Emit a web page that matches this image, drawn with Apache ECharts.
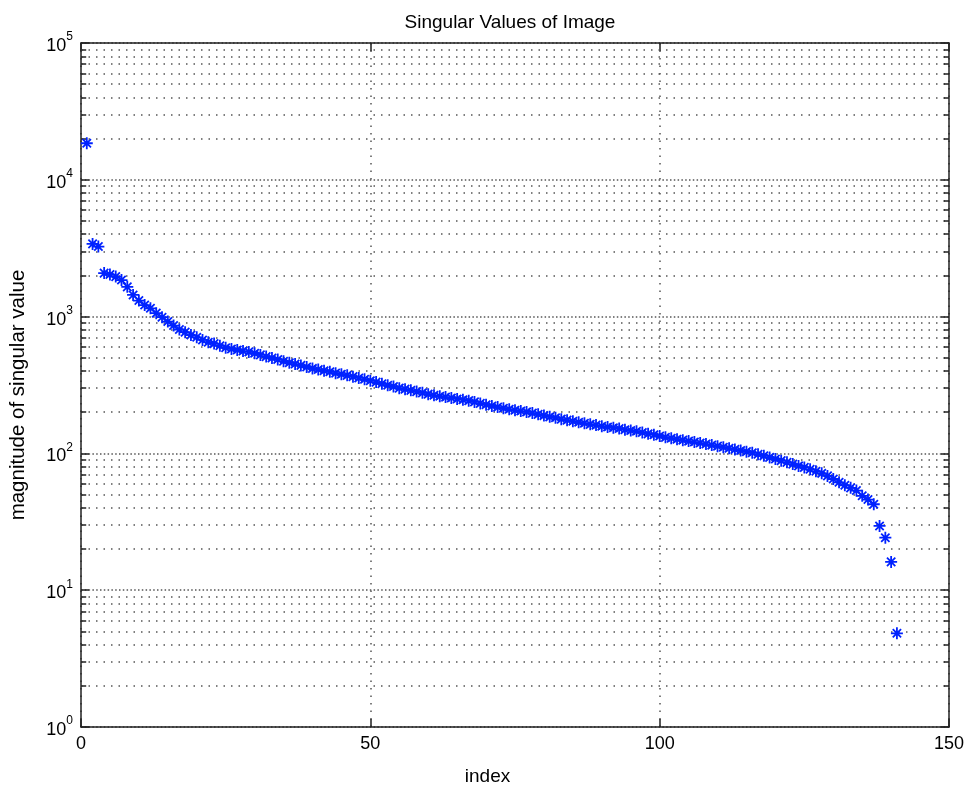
<!DOCTYPE html>
<html>
<head>
<meta charset="utf-8">
<script src="https://cdn.jsdelivr.net/npm/echarts@6/dist/echarts.min.js"></script>
<style>
html,body{margin:0;padding:0;background:#fff;}
#chart{width:968px;height:785px;}
</style>
</head>
<body>
<div id="chart"></div>
<script>
// ---- data ----
var indices = [];
for (var i = 1; i <= 141; i++) indices.push(i);
var singularValues = [
  18500, 3400, 3250, 2080, 2030, 1960, 1850, 1650, 1440, 1310,
  1215, 1150, 1060, 990, 920, 860, 805, 770, 733, 706,
  675, 650, 635, 612, 592, 580, 570, 560, 552, 540,
  525, 510, 498, 486, 472, 460, 450, 440, 428, 418,
  410, 402, 395, 386, 379, 372, 364, 356, 348, 340,
  332, 323, 315, 308, 300, 295, 289, 283, 277, 271,
  266, 262, 258, 254, 250, 247, 243, 238, 232, 227,
  222, 218, 214, 210, 207, 204, 201, 197, 193, 189,
  185, 182, 178, 175, 172, 169, 166, 163, 161, 158,
  156, 154, 152, 149, 147, 145, 142, 139, 137, 134,
  131, 129, 127, 125, 123, 121, 119, 117, 115, 113,
  111, 109, 107, 105, 103, 101, 98.5, 96, 93.5, 91,
  88.5, 86, 83.5, 81, 79, 76.5, 74, 71.5, 68.5, 65,
  61.5, 58.5, 56, 53.5, 49, 46, 42.5, 29.5, 24.2, 16.1,
  4.84
];
var xTicks = [0, 50, 100, 150];
var yDecadeExponents = [0, 1, 2, 3, 4, 5];
var minorMultipliers = [2, 3, 4, 5, 6, 7, 8, 9];
var titleText = 'Singular Values of Image';
var xName = 'index';
var yName = 'magnitude of singular value';

// ---- build ----
var points = indices.map(function (x, k) { return [x, singularValues[k]]; });

var minorGrid = [], minorTicks = [];
yDecadeExponents.slice(0, -1).forEach(function (e) {
  minorMultipliers.forEach(function (m) {
    var v = m * Math.pow(10, e);
    minorGrid.push({ yAxis: v });
    minorTicks.push([{ coord: [xTicks[0], v] }, { coord: [xTicks[0] + 0.9, v] }]);
    minorTicks.push([{ coord: [xTicks[xTicks.length - 1] - 0.9, v] }, { coord: [xTicks[xTicks.length - 1], v] }]);
  });
});

var asterisk = 'path://M0,8.5L20,8.5L20,11.5L0,11.5Z' +
  'M8.5,0L11.5,0L11.5,20L8.5,20Z' +
  'M2,4.1L4.1,2L18,15.9L15.9,18Z' +
  'M15.9,2L18,4.1L4.1,18L2,15.9Z';

var FONT = 'Liberation Sans, Arial, Helvetica, sans-serif';
var axisCol = '#222';
var xMin = xTicks[0], xMax = xTicks[xTicks.length - 1];
var yMin = Math.pow(10, yDecadeExponents[0]);
var yMax = Math.pow(10, yDecadeExponents[yDecadeExponents.length - 1]);

var chart = echarts.init(document.getElementById('chart'), null, { renderer: 'canvas' });
chart.setOption({
  backgroundColor: '#fff',
  animation: false,
  title: {
    text: titleText,
    left: 505, top: 8, textAlign: 'center',
    textStyle: { fontFamily: FONT, fontSize: 19, fontWeight: 'normal', color: '#000' }
  },
  grid: { left: 81, right: 19, top: 43, bottom: 58, containLabel: false, outerBoundsMode: 'none' },
  xAxis: [{
    type: 'value', min: xMin, max: xMax, interval: 50,
    name: xName, nameLocation: 'middle', nameGap: 40,
    nameTextStyle: { fontFamily: FONT, fontSize: 19, color: '#000', padding: [0, 55, 0, 0] },
    axisLine: { show: true, onZero: false, lineStyle: { color: axisCol, width: 1.5 } },
    axisTick: { show: true, inside: true, length: 8, lineStyle: { color: axisCol, width: 1.5 } },
    axisLabel: { fontFamily: FONT, fontSize: 18, color: '#000', margin: 8 },
    splitLine: { show: true, lineStyle: { color: '#555', width: 1.5, type: [1.5, 6] } }
  }, {
    type: 'value', min: xMin, max: xMax, interval: 50, position: 'top',
    axisLine: { show: true, onZero: false, lineStyle: { color: axisCol, width: 1.5 } },
    axisTick: { show: true, inside: true, length: 8, lineStyle: { color: axisCol, width: 1.5 } },
    axisLabel: { show: false },
    splitLine: { show: false }
  }],
  yAxis: [{
    type: 'log', logBase: 10, min: yMin, max: yMax,
    name: yName, nameLocation: 'middle', nameGap: 52, nameRotate: 90,
    nameTextStyle: { fontFamily: FONT, fontSize: 20.5, color: '#000', padding: [0, 20, 0, 0] },
    axisLine: { show: true, onZero: false, lineStyle: { color: axisCol, width: 1.5 } },
    axisTick: { show: true, inside: true, length: 8, lineStyle: { color: axisCol, width: 1.5 } },
    axisLabel: {
      margin: 8,
      formatter: function (v) {
        var e = Math.round(Math.log(v) / Math.LN10);
        return '{b|10}{e|' + e + '}';
      },
      rich: {
        b: { fontFamily: FONT, fontSize: 18, color: '#000', lineHeight: 24, verticalAlign: 'bottom' },
        e: { fontFamily: FONT, fontSize: 12, color: '#000', verticalAlign: 'top', lineHeight: 12 }
      }
    },
    splitLine: { show: true, lineStyle: { color: '#555', width: 1.5, type: [1.5, 2.3] } }
  }, {
    type: 'log', logBase: 10, min: yMin, max: yMax, position: 'right',
    axisLine: { show: true, onZero: false, lineStyle: { color: axisCol, width: 1.5 } },
    axisTick: { show: true, inside: true, length: 8, lineStyle: { color: axisCol, width: 1.5 } },
    axisLabel: { show: false },
    splitLine: { show: false }
  }],
  series: [{
    type: 'scatter',
    xAxisIndex: 0, yAxisIndex: 0,
    data: points,
    symbol: asterisk,
    symbolSize: 12,
    itemStyle: { color: '#0022ff', opacity: 1 },
    silent: true,
    z: 5,
    markLine: {
      silent: true, symbol: 'none', animation: false,
      label: { show: false },
      lineStyle: { color: '#555', width: 1.5, type: [1.5, 6] },
      data: minorGrid
    }
  }, {
    type: 'scatter',
    xAxisIndex: 0, yAxisIndex: 0,
    data: [],
    silent: true,
    markLine: {
      silent: true, symbol: 'none', animation: false,
      label: { show: false },
      lineStyle: { color: axisCol, width: 1.5, type: 'solid' },
      data: minorTicks
    }
  }]
});
</script>
</body>
</html>
